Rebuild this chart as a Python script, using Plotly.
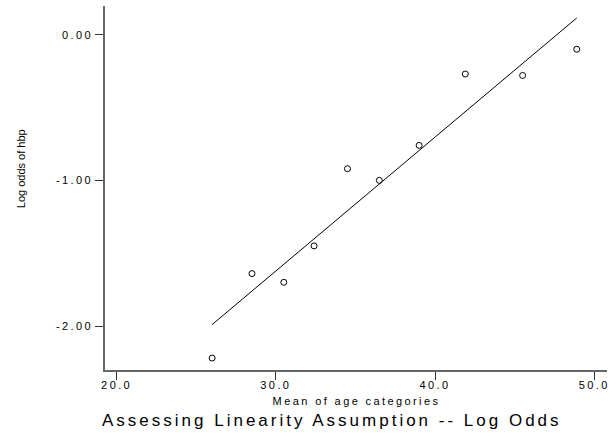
import plotly.graph_objects as go

# Data
age_mean = [26.0, 28.5, 30.5, 32.4, 34.5, 36.5, 39.0, 41.9, 45.5, 48.9]
log_odds = [-2.22, -1.64, -1.70, -1.45, -0.92, -1.00, -0.76, -0.27, -0.28, -0.10]
fit_x = [26.0, 48.9]
fit_y = [-1.99, 0.115]
x_ticks = [20, 30, 40, 50]
x_tick_labels = ["20.0", "30.0", "40.0", "50.0"]
y_ticks = [0, -1, -2]
y_tick_labels = ["0.00", "-1.00", "-2.00"]

FONT = "Liberation Sans, Arial, Helvetica, sans-serif"

fig = go.Figure()
fig.add_trace(go.Scatter(x=fit_x, y=fit_y, mode="lines",
                         line=dict(color="black", width=1), showlegend=False))
fig.add_trace(go.Scatter(x=age_mean, y=log_odds, mode="markers",
                         marker=dict(symbol="circle-open", size=6, color="black",
                                     line=dict(width=1, color="black")),
                         showlegend=False))

axis_common = dict(showgrid=False, zeroline=False, showline=True,
                   linecolor="#666666", linewidth=1.5, ticks="outside",
                   ticklen=8, tickwidth=1, tickcolor="#333333",
                   tickfont=dict(family=FONT, size=11, color="black"))

fig.update_xaxes(range=[19.27, 50.8], tickvals=x_ticks, ticktext=x_tick_labels,
                 ticklabelstandoff=-4, **axis_common)
fig.update_yaxes(range=[-2.302, 0.197], tickvals=y_ticks, ticktext=y_tick_labels,
                 **axis_common)

fig.update_layout(
    width=609, height=435,
    margin=dict(l=105, r=2, t=6, b=65),
    plot_bgcolor="white", paper_bgcolor="white",
    annotations=[
        dict(text="Mean of age categories", xref="paper", yref="paper",
             x=0.5, y=-0.085, xanchor="center", yanchor="middle",
             showarrow=False, font=dict(family=FONT, size=11, color="black")),
        dict(text="Log odds of hbp", xref="paper", yref="paper",
             x=-0.167, y=0.552, xanchor="center", yanchor="middle", textangle=-90,
             showarrow=False, font=dict(family=FONT, size=11, color="black")),
        dict(text="Assessing Linearity Assumption -- Log Odds", xref="paper",
             yref="paper", x=0.452, y=-0.138, xanchor="center", yanchor="middle",
             showarrow=False, font=dict(family=FONT, size=17, color="black")),
    ],
)

post = """
var gd = document.getElementById('{plot_id}');
function spaceText() {
  gd.querySelectorAll('svg text').forEach(function (t) {
    var s = t.textContent || '';
    if (s.indexOf('Assessing') === 0) {
      t.style.letterSpacing = '3px';
    } else if (s.indexOf('Log odds') === 0) {
      t.style.letterSpacing = '0px';
    } else {
      t.style.letterSpacing = '2.4px';
    }
  });
}
spaceText();
gd.on('plotly_afterplot', spaceText);
"""

fig.write_html("out.html", post_script=post)
